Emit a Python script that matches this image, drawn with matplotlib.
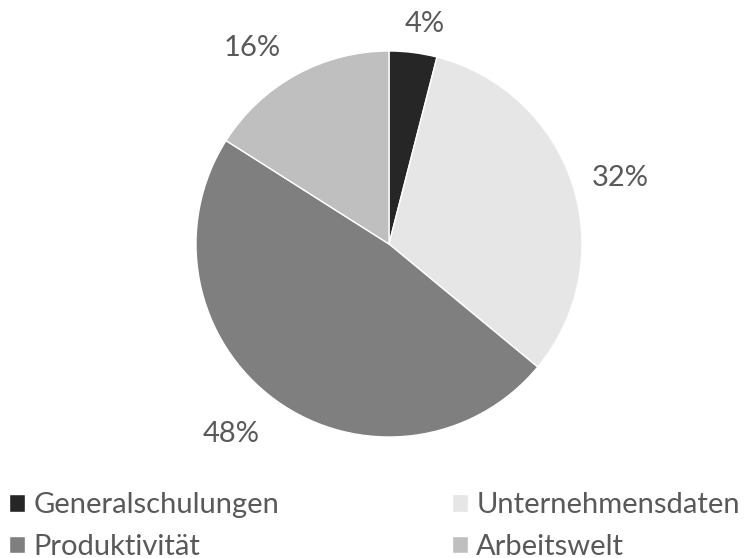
import numpy as np
import matplotlib.pyplot as plt
from matplotlib import font_manager

names = ['Generalschulungen', 'Unternehmensdaten', 'Produktivität', 'Arbeitswelt']
shares = [4, 32, 48, 16]
colors = ['#262626', '#e6e6e6', '#7f7f7f', '#bfbfbf']
# label placement: distance from centre (in radii) and small angle nudge (deg)
label_dist = [1.165, 1.248, 1.273, 1.248]
label_nudge = [-2.0, -1.6, -4.1, 5.9]

avail = {f.name for f in font_manager.fontManager.ttflist}
fam = [f for f in ['Liberation Sans Narrow', 'Lato', 'DejaVu Sans'] if f in avail]
plt.rcParams['font.family'] = fam
txt = '#595959'

fig = plt.figure(figsize=(7.46, 5.58), dpi=100)
ax = fig.add_axes([196/746, 1-437/558, 386/746, 386/558])
wedges, _ = ax.pie(shares, colors=colors, startangle=90, counterclock=False,
                   wedgeprops=dict(edgecolor='white', linewidth=1.0))
ax.set_xlim(-1, 1)
ax.set_ylim(-1, 1)
ax.set_aspect('equal')
ax.axis('off')

for w, v, d, n in zip(wedges, shares, label_dist, label_nudge):
    a = np.deg2rad((w.theta1 + w.theta2) / 2 + n)
    ax.text(d*np.cos(a), d*np.sin(a) - 0.01, f'{v}%', ha='center', va='center',
            fontsize=21, color=txt, clip_on=False)

order = [0, 2, 1, 3]
leg = fig.legend([wedges[i] for i in order], [names[i] for i in order],
                 ncol=2, loc='lower left', bbox_to_anchor=(0.0, -0.019),
                 frameon=False, fontsize=21, handlelength=0.55, handleheight=0.55,
                 handletextpad=0.3, columnspacing=5.9, labelspacing=0.54,
                 borderaxespad=0, borderpad=0.3)
for t in leg.get_texts():
    t.set_color(txt)

fig.savefig('out.png', dpi=100)
